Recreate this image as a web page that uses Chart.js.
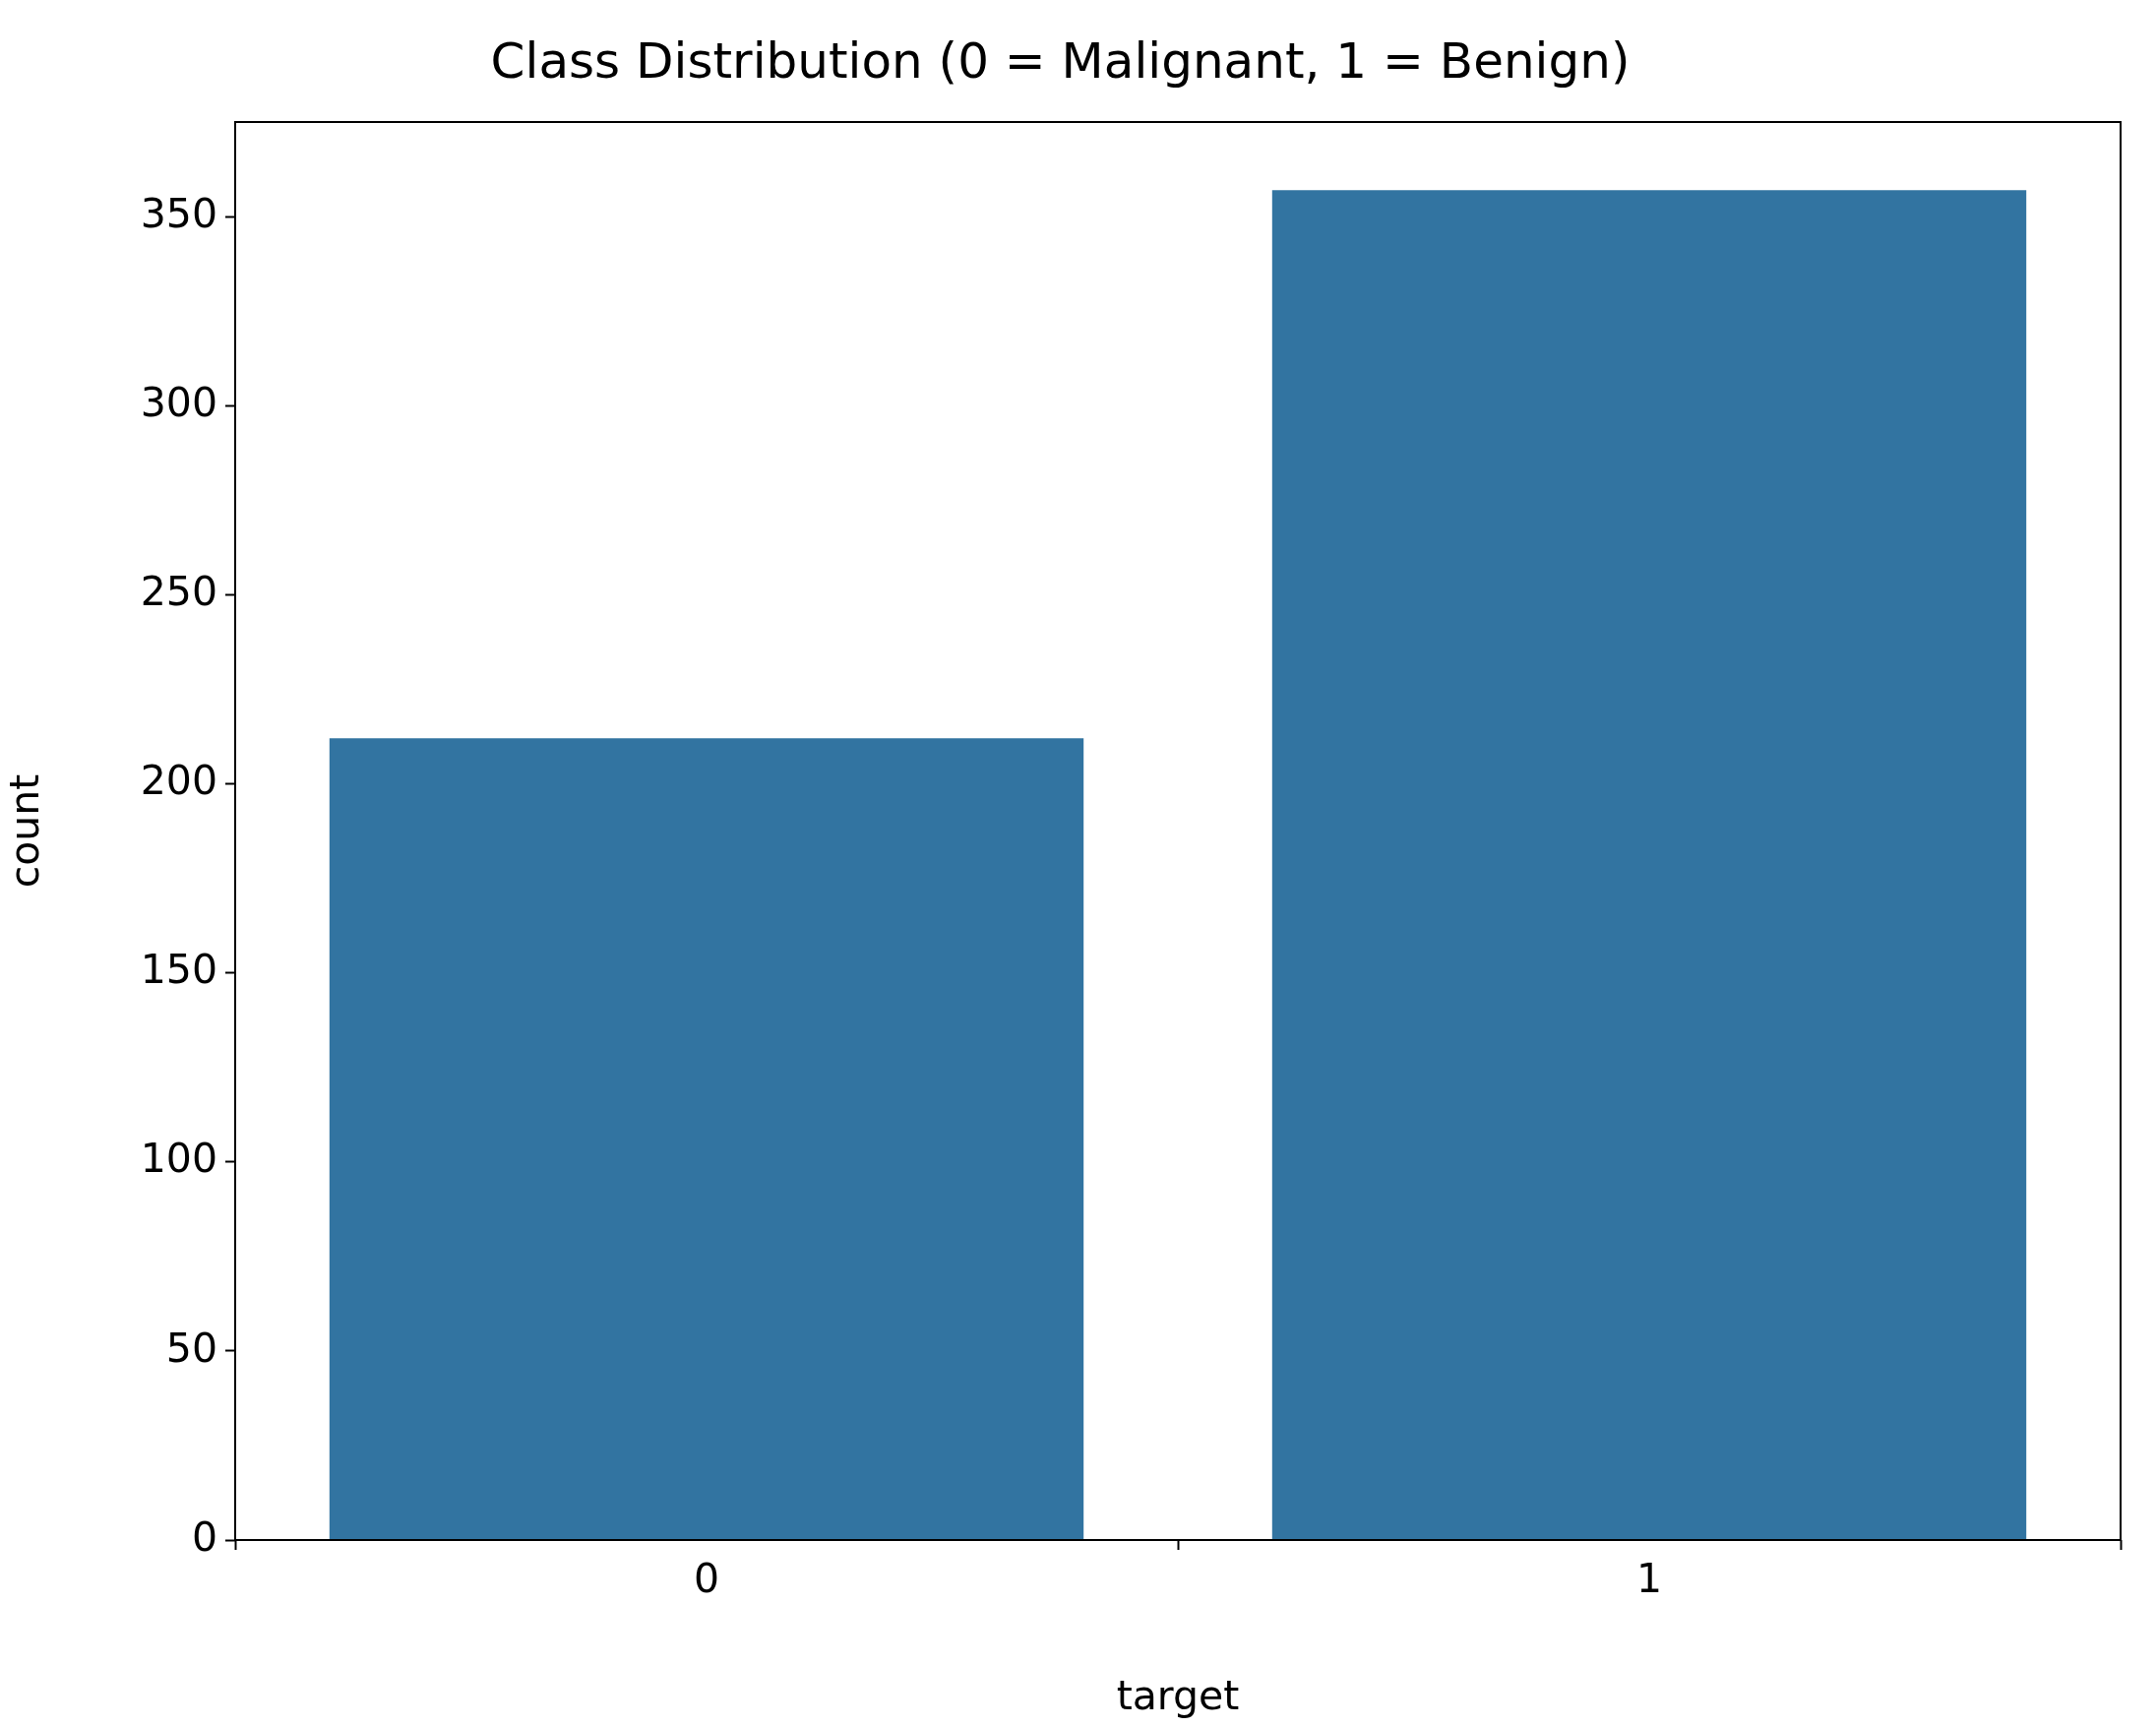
<!DOCTYPE html>
<html lang="en">
<head>
    <meta charset="UTF-8">
    <title>Class Distribution</title>
    <script src="https://cdn.jsdelivr.net/npm/chart.js"></script>
    <style>
        body { margin: 0; background: #fff; }
        #wrap { width: 2191px; height: 1755px; }
    </style>
</head>
<body>
    <div id="wrap"><canvas id="classChart"></canvas></div>
    <script>
        const categories = ['0', '1'];
        const counts = [212, 357];
        const yTicks = [0, 50, 100, 150, 200, 250, 300, 350];

        const font = 'DejaVu Sans';

        // draws the full box around the plot area like matplotlib
        const frame = {
            id: 'frame',
            afterDraw(chart) {
                const a = chart.chartArea;
                const ctx = chart.ctx;
                ctx.save();
                ctx.strokeStyle = '#000';
                ctx.lineWidth = 2;
                ctx.strokeRect(a.left, a.top, a.right - a.left, a.bottom - a.top);
                ctx.restore();
            }
        };

        new Chart(document.getElementById('classChart'), {
            type: 'bar',
            data: {
                labels: categories,
                datasets: [{
                    data: counts,
                    backgroundColor: '#3274a1',
                    barPercentage: 0.8,
                    categoryPercentage: 1.0
                }]
            },
            options: {
                responsive: true,
                maintainAspectRatio: false,
                animation: false,
                layout: { padding: { right: 36, left: 0, bottom: 0 } },
                plugins: {
                    legend: { display: false },
                    tooltip: { enabled: false },
                    title: {
                        display: true,
                        text: 'Class Distribution (0 = Malignant, 1 = Benign)',
                        color: '#000',
                        font: { family: font, size: 50, weight: 'normal' },
                        padding: { top: 36, bottom: 28 }
                    }
                },
                scales: {
                    x: {
                        grid: { display: true, drawOnChartArea: false, color: '#000', tickLength: 10, tickWidth: 2 },
                        border: { display: false },
                        ticks: { color: '#000', font: { family: font, size: 41 }, padding: 8 },
                        title: { display: true, text: 'target', color: '#000', font: { family: font, size: 41 }, padding: { top: 14 } },
                        afterFit(s) { s.height = 190; }
                    },
                    y: {
                        min: 0,
                        max: 375,
                        afterBuildTicks(s) { s.ticks = yTicks.map(v => ({ value: v })); },
                        grid: { display: true, drawOnChartArea: false, color: '#000', tickLength: 10, tickWidth: 2 },
                        border: { display: false },
                        ticks: { color: '#000', font: { family: font, size: 41 }, padding: 8 },
                        title: { display: true, text: 'count', color: '#000', font: { family: font, size: 41 }, padding: { bottom: 10 } },
                        afterFit(s) { s.width = 239; }
                    }
                }
            },
            plugins: [frame]
        });
    </script>
</body>
</html>
